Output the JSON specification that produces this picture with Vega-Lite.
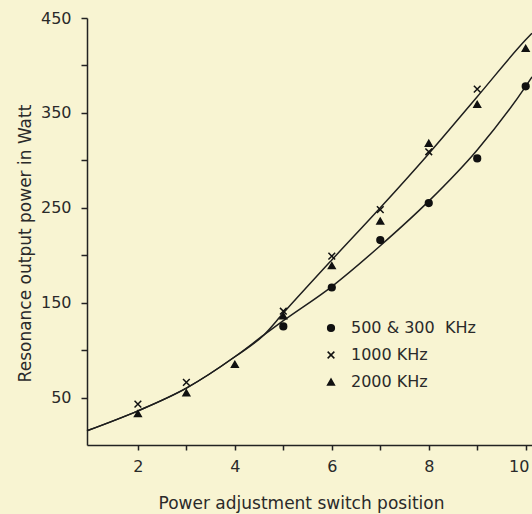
{
  "$schema": "https://vega.github.io/schema/vega-lite/v6.json",
  "width": 445,
  "height": 427,
  "autosize": {"type": "none"},
  "padding": {"left": 87, "top": 18, "right": 0, "bottom": 69},
  "background": "#F8F4D2",
  "config": {
    "view": {"stroke": null},
    "font": "DejaVu Sans",
    "axis": {
      "grid": false,
      "domainColor": "#222222",
      "domainWidth": 1.5,
      "tickColor": "#222222",
      "tickWidth": 1.5,
      "labelColor": "#2a2a2a",
      "titleColor": "#2a2a2a",
      "labelFont": "DejaVu Sans",
      "titleFont": "DejaVu Sans",
      "labelFontSize": 16,
      "titleFontSize": 17,
      "titleFontWeight": "normal"
    }
  },
  "datasets": {
    "curves": [
      {"curve": "upper", "x": 0.95, "y": 15},
      {"curve": "upper", "x": 2, "y": 36},
      {"curve": "upper", "x": 3, "y": 60},
      {"curve": "upper", "x": 4, "y": 93},
      {"curve": "upper", "x": 4.6, "y": 116},
      {"curve": "upper", "x": 5, "y": 139},
      {"curve": "upper", "x": 6, "y": 195},
      {"curve": "upper", "x": 7, "y": 250},
      {"curve": "upper", "x": 8, "y": 307},
      {"curve": "upper", "x": 9, "y": 367},
      {"curve": "upper", "x": 10, "y": 427},
      {"curve": "upper", "x": 10.13, "y": 434},
      {"curve": "lower", "x": 0.95, "y": 15},
      {"curve": "lower", "x": 2, "y": 36},
      {"curve": "lower", "x": 3, "y": 60},
      {"curve": "lower", "x": 4, "y": 93},
      {"curve": "lower", "x": 4.6, "y": 116},
      {"curve": "lower", "x": 5, "y": 131},
      {"curve": "lower", "x": 6, "y": 167},
      {"curve": "lower", "x": 7, "y": 210},
      {"curve": "lower", "x": 8, "y": 257},
      {"curve": "lower", "x": 9, "y": 311},
      {"curve": "lower", "x": 10, "y": 378},
      {"curve": "lower", "x": 10.13, "y": 388}
    ],
    "points": [
      {"series": "500 & 300\u00a0\u00a0KHz", "x": 5, "y": 125},
      {"series": "500 & 300\u00a0\u00a0KHz", "x": 6, "y": 166},
      {"series": "500 & 300\u00a0\u00a0KHz", "x": 7, "y": 216},
      {"series": "500 & 300\u00a0\u00a0KHz", "x": 8, "y": 255},
      {"series": "500 & 300\u00a0\u00a0KHz", "x": 9, "y": 302},
      {"series": "500 & 300\u00a0\u00a0KHz", "x": 10, "y": 378},
      {"series": "1000 KHz", "x": 2, "y": 43},
      {"series": "1000 KHz", "x": 3, "y": 66},
      {"series": "1000 KHz", "x": 5, "y": 141},
      {"series": "1000 KHz", "x": 6, "y": 199},
      {"series": "1000 KHz", "x": 7, "y": 248},
      {"series": "1000 KHz", "x": 8, "y": 309},
      {"series": "1000 KHz", "x": 9, "y": 375},
      {"series": "2000 KHz", "x": 2, "y": 33},
      {"series": "2000 KHz", "x": 3, "y": 55},
      {"series": "2000 KHz", "x": 4, "y": 85},
      {"series": "2000 KHz", "x": 5, "y": 136},
      {"series": "2000 KHz", "x": 6, "y": 189},
      {"series": "2000 KHz", "x": 7, "y": 236},
      {"series": "2000 KHz", "x": 8, "y": 318},
      {"series": "2000 KHz", "x": 9, "y": 359},
      {"series": "2000 KHz", "x": 10, "y": 418}
    ]
  },
  "encoding": {
    "x": {
      "field": "x",
      "type": "quantitative",
      "scale": {"domain": [0.95, 10.13], "nice": false, "zero": false},
      "axis": {
        "values": [2, 3, 4, 5, 6, 7, 8, 9, 10],
        "labelExpr": "datum.value % 2 == 0 ? datum.label : ''",
        "labelOffset": {"condition": {"test": "datum.value == 10", "value": -7}, "value": 0},
        "tickSize": 5,
        "labelPadding": 8,
        "title": "Power adjustment switch position",
        "titleX": 214,
        "titleY": 63,
        "titleAlign": "center",
        "titleBaseline": "alphabetic",
        "labelFlush": false
      }
    },
    "y": {
      "field": "y",
      "type": "quantitative",
      "scale": {"domain": [0, 450], "nice": false},
      "axis": {
        "values": [50, 100, 150, 200, 250, 300, 350, 400, 450],
        "labelExpr": "datum.value % 100 == 50 ? datum.label : ''",
        "tickSize": 6,
        "labelPadding": 10,
        "title": "Resonance output power in Watt",
        "titleX": -62,
        "titleY": 225,
        "titleAlign": "center",
        "titleBaseline": "middle",
        "titleAngle": -90
      }
    }
  },
  "layer": [
    {
      "data": {"name": "curves"},
      "mark": {"type": "line", "color": "#1e1e1e", "strokeWidth": 1.5, "interpolate": "monotone"},
      "encoding": {"detail": {"field": "curve"}}
    },
    {
      "data": {"name": "points"},
      "mark": {"type": "point", "filled": true, "fill": "#111111", "stroke": "#111111", "strokeWidth": 1.5, "size": 45, "opacity": 1},
      "encoding": {
        "shape": {
          "field": "series",
          "type": "nominal",
          "scale": {
            "domain": ["500 & 300\u00a0\u00a0KHz", "1000 KHz", "2000 KHz"],
            "range": ["circle", "M-1,-1L1,1M-1,1L1,-1", "triangle-up"]
          },
          "legend": {
            "title": null,
            "orient": "none",
            "legendX": 236,
            "legendY": 302,
            "labelFontSize": 16,
            "labelColor": "#2a2a2a",
            "labelFont": "DejaVu Sans",
            "symbolSize": 45,
            "rowPadding": 11,
            "labelOffset": 12,
            "encode": {
              "symbols": {
                "update": {
                  "fill": {"value": "#111111"},
                  "stroke": {"value": "#111111"},
                  "strokeWidth": {"value": 1.5},
                  "opacity": {"value": 1}
                }
              }
            }
          }
        }
      }
    }
  ]
}
